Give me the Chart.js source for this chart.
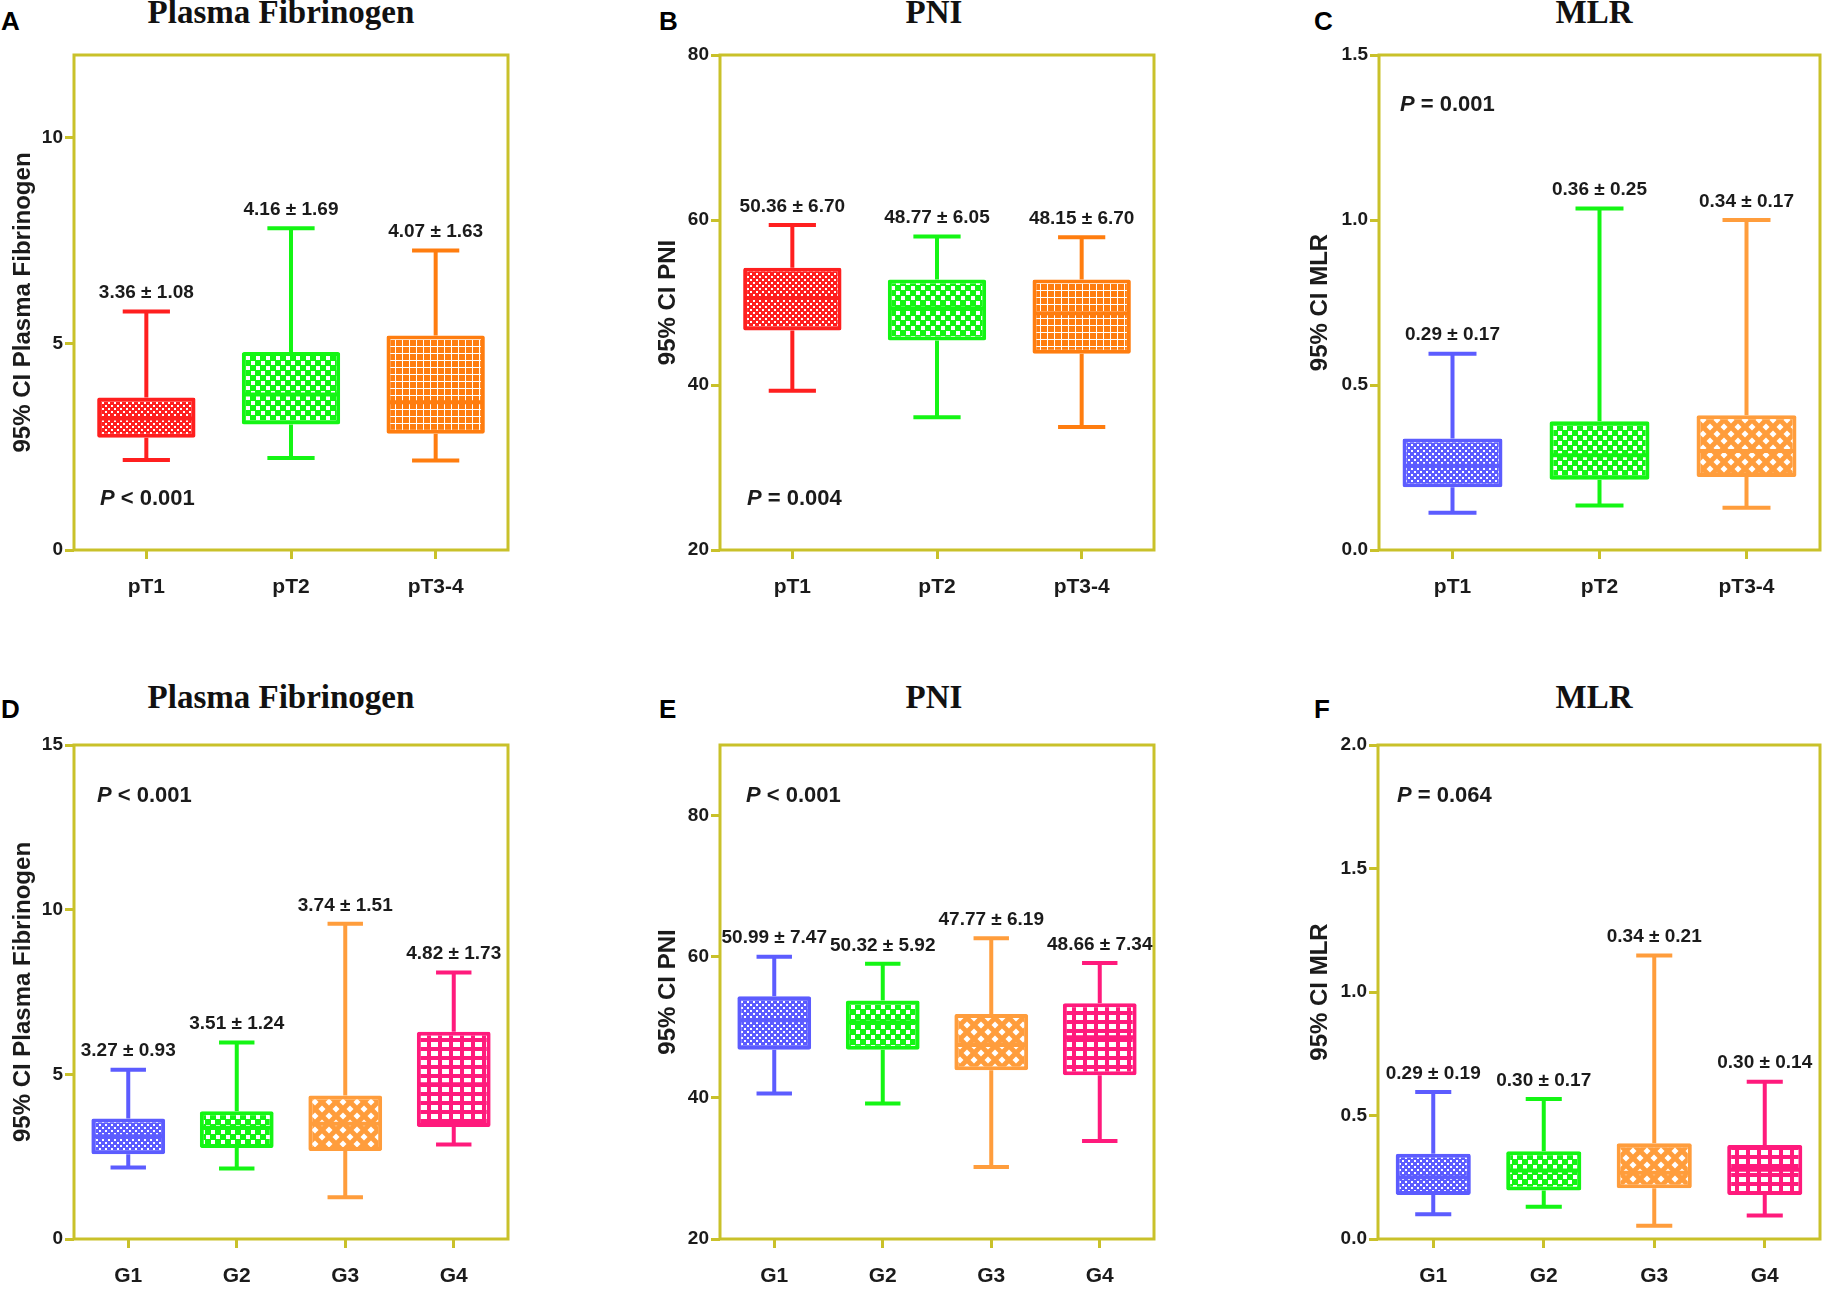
<!DOCTYPE html>
<html>
<head>
<meta charset="utf-8">
<script src="https://cdn.jsdelivr.net/npm/chart.js@4.4.1/dist/chart.umd.min.js"></script>
<style>
  html, body { margin: 0; padding: 0; background: #fff; }
  body { width: 1822px; height: 1289px; position: relative; overflow: hidden; }
  canvas { position: absolute; }
  .letter { position: absolute; font: bold 26px 'Liberation Sans', Arial, sans-serif; line-height: 1; color: #000; }
  .title { position: absolute; font: bold 33px 'Liberation Serif', 'Times New Roman', serif; line-height: 1; transform: translateX(-50%); white-space: nowrap; color: #111; }
</style>
</head>
<body>
<div class="letter" style="left:1px;top:8px">A</div>
<div class="letter" style="left:659px;top:8px">B</div>
<div class="letter" style="left:1314px;top:8px">C</div>
<div class="letter" style="left:1px;top:696px">D</div>
<div class="letter" style="left:659px;top:696px">E</div>
<div class="letter" style="left:1314px;top:696px">F</div>
<div class="title" style="left:281px;top:-4px">Plasma Fibrinogen</div>
<div class="title" style="left:934px;top:-4px">PNI</div>
<div class="title" style="left:1594px;top:-4px">MLR</div>
<div class="title" style="left:281px;top:681px">Plasma Fibrinogen</div>
<div class="title" style="left:934px;top:681px">PNI</div>
<div class="title" style="left:1594px;top:681px">MLR</div>

<canvas id="cA" width="510" height="600" style="left:0px;top:0px"></canvas>
<canvas id="cB" width="511" height="600" style="left:645px;top:0px"></canvas>
<canvas id="cC" width="525" height="600" style="left:1297px;top:0px"></canvas>
<canvas id="cD" width="510" height="600" style="left:0px;top:689px"></canvas>
<canvas id="cE" width="511" height="600" style="left:645px;top:689px"></canvas>
<canvas id="cF" width="525" height="600" style="left:1297px;top:689px"></canvas>

<script>
const stageLabels = ['pT1', 'pT2', 'pT3-4'];
const gradeLabels = ['G1', 'G2', 'G3', 'G4'];

// each box: [lower whisker, Q1, median, Q3, upper whisker]
const fibStageBoxes = [[2.18, 2.72, 3.19, 3.70, 5.78], [2.23, 3.04, 3.77, 4.80, 7.80], [2.17, 2.82, 3.58, 5.20, 7.26]];
const fibStageMeans = ['3.36 ± 1.08', '4.16 ± 1.69', '4.07 ± 1.63'];
const fibStageTicks = [0, 5, 10];

const pniStageBoxes = [[39.3, 46.6, 50.55, 54.2, 59.4], [36.1, 45.4, 49.3, 52.8, 58.0], [34.9, 43.8, 48.7, 52.8, 57.9]];
const pniStageMeans = ['50.36 ± 6.70', '48.77 ± 6.05', '48.15 ± 6.70'];
const pniStageTicks = [20, 40, 60, 80];

const mlrStageBoxes = [[0.113, 0.19, 0.255, 0.338, 0.595], [0.135, 0.213, 0.287, 0.39, 1.035], [0.128, 0.221, 0.30, 0.408, 1.0]];
const mlrStageMeans = ['0.29 ± 0.17', '0.36 ± 0.25', '0.34 ± 0.17'];
const mlrStageTicks = [0, 0.5, 1.0, 1.5];

const fibGradeBoxes = [[2.17, 2.57, 3.12, 3.66, 5.14], [2.14, 2.76, 3.38, 3.88, 5.97], [1.27, 2.67, 3.5, 4.36, 9.57], [2.87, 3.40, 4.7, 6.29, 8.09]];
const fibGradeMeans = ['3.27 ± 0.93', '3.51 ± 1.24', '3.74 ± 1.51', '4.82 ± 1.73'];
const fibGradeTicks = [0, 5, 10, 15];

const pniGradeBoxes = [[40.6, 46.8, 51.0, 54.4, 60.0], [39.2, 46.8, 50.7, 53.8, 59.0], [30.2, 43.9, 47.5, 51.9, 62.6], [33.9, 43.2, 48.6, 53.4, 59.1]];
const pniGradeMeans = ['50.99 ± 7.47', '50.32 ± 5.92', '47.77 ± 6.19', '48.66 ± 7.34'];
const pniGradeTicks = [20, 40, 60, 80];

const mlrGradeBoxes = [[0.10, 0.178, 0.25, 0.345, 0.595], [0.131, 0.196, 0.277, 0.355, 0.567], [0.054, 0.205, 0.268, 0.388, 1.148], [0.095, 0.178, 0.28, 0.381, 0.637]];
const mlrGradeMeans = ['0.29 ± 0.19', '0.30 ± 0.17', '0.34 ± 0.21', '0.30 ± 0.14'];
const mlrGradeTicks = [0, 0.5, 1.0, 1.5, 2.0];

const AXIS = '#c9c12a';
const INK = '#1b1b1b';
const FONT = "'Liberation Sans', Arial, sans-serif";

const RED = '#ff1f1f';
const GREEN = '#14f514';
const ORANGE = '#ff7d0f';
const ORANGE2 = '#ff9d3c';
const BLUE = '#5c5cff';
const PINK = '#ff1a7c';

// little tiles for the hatched box fills
function makeTile(kind, color) {
  const c = document.createElement('canvas');
  const t = c.getContext('2d');
  let w, h;
  if (kind === 'fine') {
    w = h = 6;
  } else if (kind === 'checker') {
    w = h = 10;
  } else if (kind === 'grid') {
    w = h = 7;
  } else if (kind === 'diamond') {
    w = h = 14;
  } else {
    w = 11; h = 9;
  }
  c.width = w; c.height = h;
  t.fillStyle = color;
  t.fillRect(0, 0, w, h);
  t.fillStyle = '#fff';
  if (kind === 'fine') {
    t.fillRect(0, 0, 2, 2);
    t.fillRect(3, 3, 2, 2);
  } else if (kind === 'checker') {
    t.fillRect(1, 1, 4, 4);
    t.fillRect(6, 6, 4, 4);
  } else if (kind === 'grid') {
    t.fillRect(3, 0, 1, 7);
    t.fillRect(0, 3, 7, 1);
  } else if (kind === 'diamond') {
    [[7, 7], [0, 0], [14, 0], [0, 14], [14, 14]].forEach(([cx, cy]) => {
      t.beginPath();
      t.moveTo(cx, cy - 3.5);
      t.lineTo(cx + 3.5, cy);
      t.lineTo(cx, cy + 3.5);
      t.lineTo(cx - 3.5, cy);
      t.closePath();
      t.fill();
    });
  } else {
    t.fillRect(2, 2, 7, 5);
  }
  return c;
}

const boxExtras = {
  id: 'boxExtras',
  beforeDatasetsDraw(chart) {
    const { ctx, chartArea: a } = chart;
    ctx.save();
    ctx.strokeStyle = AXIS;
    ctx.lineWidth = 3;
    ctx.strokeRect(a.left, a.top, a.right - a.left, a.bottom - a.top);
    ctx.restore();
  },
  afterDatasetsDraw(chart, args, opts) {
    const { ctx, chartArea: a, scales: { y } } = chart;
    const meta = chart.getDatasetMeta(0);
    ctx.save();
    meta.data.forEach((bar, i) => {
      const b = opts.boxes[i];
      const cx = bar.x;
      const w = bar.width;
      const cap = w * 0.24;
      const pLow = y.getPixelForValue(b[0]);
      const pQ1 = y.getPixelForValue(b[1]);
      const pMed = y.getPixelForValue(b[2]);
      const pQ3 = y.getPixelForValue(b[3]);
      const pHigh = y.getPixelForValue(b[4]);
      ctx.strokeStyle = opts.colors[i];
      ctx.lineWidth = 4;
      ctx.beginPath();
      ctx.moveTo(cx, pQ3); ctx.lineTo(cx, pHigh);
      ctx.moveTo(cx, pQ1); ctx.lineTo(cx, pLow);
      ctx.moveTo(cx - cap, pHigh); ctx.lineTo(cx + cap, pHigh);
      ctx.moveTo(cx - cap, pLow); ctx.lineTo(cx + cap, pLow);
      ctx.moveTo(cx - w / 2 + 2, pMed); ctx.lineTo(cx + w / 2 - 2, pMed);
      ctx.stroke();

      ctx.fillStyle = INK;
      ctx.font = 'bold 19px ' + FONT;
      ctx.textAlign = 'center';
      ctx.textBaseline = 'bottom';
      ctx.fillText(opts.means[i], cx, pHigh - 9);
    });

    // P value note
    const px = a.left + opts.pX;
    const py = y.getPixelForValue(opts.pY);
    ctx.textAlign = 'left';
    ctx.textBaseline = 'middle';
    ctx.fillStyle = INK;
    ctx.font = 'italic bold 22px ' + FONT;
    ctx.fillText('P', px, py);
    const pw = ctx.measureText('P').width;
    ctx.font = 'bold 22px ' + FONT;
    ctx.fillText(' ' + opts.pText, px + pw, py);
    ctx.restore();
  }
};

function drawPanel(p) {
  const canvas = document.getElementById(p.id);
  const ctx = canvas.getContext('2d');
  const fills = p.fills.map((k, i) => ctx.createPattern(makeTile(k, p.colors[i]), 'repeat'));

  new Chart(ctx, {
    type: 'bar',
    data: {
      labels: p.labels,
      datasets: [
        {
          data: p.boxes.map(b => [b[1], b[3]]),
          backgroundColor: fills,
          borderColor: p.colors,
          borderWidth: 4,
          borderSkipped: false,
          borderRadius: 2,
          barPercentage: 0.68,
          categoryPercentage: 1,
        },
      ],
    },
    options: {
      responsive: false,
      animation: false,
      devicePixelRatio: 1,
      layout: { padding: { top: p.padTop, right: 2, left: 0, bottom: 0 } },
      plugins: {
        legend: { display: false },
        tooltip: { enabled: false },
        boxExtras: {
          boxes: p.boxes,
          means: p.means,
          colors: p.colors,
          pText: p.pText,
          pY: p.pY,
          pX: p.pX,
        },
      },
      scales: {
        x: {
          offset: true,
          border: { display: false },
          grid: { offset: false, drawOnChartArea: false, tickLength: 9, color: AXIS, lineWidth: 3 },
          ticks: { color: INK, font: { family: FONT, size: 21, weight: 'bold' }, padding: 16 },
          afterFit: s => { s.height = 50; },
        },
        y: {
          min: p.min,
          max: p.max,
          border: { display: false },
          grid: { drawOnChartArea: false, tickLength: 9, color: AXIS, lineWidth: 3 },
          afterBuildTicks: s => { s.ticks = p.ticks.map(v => ({ value: v })); },
          ticks: {
            color: INK,
            font: { family: FONT, size: 19, weight: 'bold' },
            padding: 2,
            callback: v => (p.dec ? Number(v).toFixed(p.dec) : String(v)),
          },
          title: {
            display: true,
            text: p.title,
            color: INK,
            font: { family: FONT, size: 24, weight: 'bold' },
            padding: { top: 9, bottom: 0 },
          },
          afterFit: s => { s.width = p.axisW; },
        },
      },
    },
    plugins: [boxExtras],
  });
}

const panels = [
  { id: 'cA', labels: stageLabels, boxes: fibStageBoxes, means: fibStageMeans, ticks: fibStageTicks,
    colors: [RED, GREEN, ORANGE], fills: ['fine', 'checker', 'grid'], min: 0, max: 12, dec: 0,
    title: '95% CI Plasma Fibrinogen', pText: '< 0.001', pY: 1.24, pX: 26, axisW: 74, padTop: 55 },
  { id: 'cB', labels: stageLabels, boxes: pniStageBoxes, means: pniStageMeans, ticks: pniStageTicks,
    colors: [RED, GREEN, ORANGE], fills: ['fine', 'checker', 'grid'], min: 20, max: 80, dec: 0,
    title: '95% CI PNI', pText: '= 0.004', pY: 26.2, pX: 27, axisW: 75, padTop: 55 },
  { id: 'cC', labels: stageLabels, boxes: mlrStageBoxes, means: mlrStageMeans, ticks: mlrStageTicks,
    colors: [BLUE, GREEN, ORANGE2], fills: ['fine', 'checker', 'diamond'], min: 0, max: 1.5, dec: 1,
    title: '95% CI MLR', pText: '= 0.001', pY: 1.35, pX: 21, axisW: 82, padTop: 55 },
  { id: 'cD', labels: gradeLabels, boxes: fibGradeBoxes, means: fibGradeMeans, ticks: fibGradeTicks,
    colors: [BLUE, GREEN, ORANGE2, PINK], fills: ['fine', 'checker', 'diamond', 'squares'], min: 0, max: 15, dec: 0,
    title: '95% CI Plasma Fibrinogen', pText: '< 0.001', pY: 13.45, pX: 23, axisW: 74, padTop: 56 },
  { id: 'cE', labels: gradeLabels, boxes: pniGradeBoxes, means: pniGradeMeans, ticks: pniGradeTicks,
    colors: [BLUE, GREEN, ORANGE2, PINK], fills: ['fine', 'checker', 'diamond', 'squares'], min: 20, max: 90, dec: 0,
    title: '95% CI PNI', pText: '< 0.001', pY: 82.8, pX: 26, axisW: 75, padTop: 56 },
  { id: 'cF', labels: gradeLabels, boxes: mlrGradeBoxes, means: mlrGradeMeans, ticks: mlrGradeTicks,
    colors: [BLUE, GREEN, ORANGE2, PINK], fills: ['fine', 'checker', 'diamond', 'squares'], min: 0, max: 2, dec: 1,
    title: '95% CI MLR', pText: '= 0.064', pY: 1.794, pX: 19, axisW: 81, padTop: 56 },
];

panels.forEach(drawPanel);
</script>
</body>
</html>
